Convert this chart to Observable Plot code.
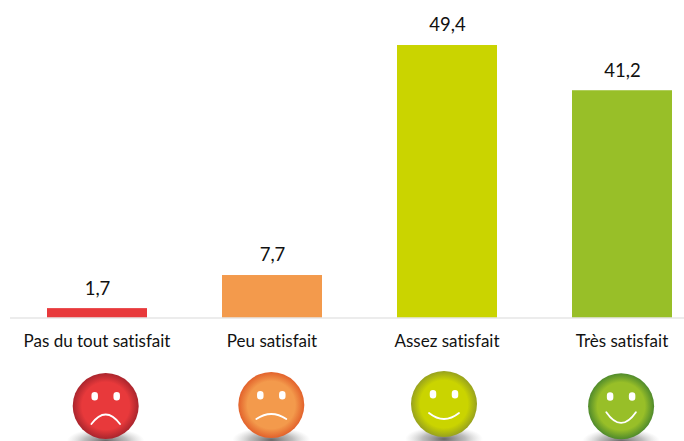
<!DOCTYPE html>
<html>
<head>
<meta charset="utf-8">
<script src="https://cdn.jsdelivr.net/npm/d3@7"></script>
<script src="https://cdn.jsdelivr.net/npm/@observablehq/plot@0.6"></script>
<style>
html,body{margin:0;padding:0;background:#fff;overflow:hidden}
svg{display:block}
svg text{font-variant-ligatures:none}
</style>
</head>
<body>
<div id="chart"></div>
<script>
const categories = ["Pas du tout satisfait", "Peu satisfait", "Assez satisfait", "Très satisfait"];
const values = [1.7, 7.7, 49.4, 41.2];
const valueLabels = ["1,7", "7,7", "49,4", "41,2"];
const barColors = ["#e8393b", "#f39a4c", "#cad400", "#98bf28"];
const edgeColors = ["#a9252d", "#e2612b", "#97a11e", "#4f8a2c"];
const faceLevel = [-15.95, -15.77, -15.6, -16.0];
const faceShift = [8.2, -1.2, -3.5, -1.4];
const mouthEnds = [18, 14, 9, 6];
const mouthMids = [8.5, 9, 15, 16.7];
const mouthHalf = [14.3, 15, 15, 14.8];

const rows = categories.map((category, i) => ({
  category, value: values[i], label: valueLabels[i], color: barColors[i], level: faceLevel[i], i
}));

const NS = "http://www.w3.org/2000/svg";
function defs() {
  const d = document.createElementNS(NS, "defs");
  const stops = (g, list) => list.forEach(([o, c, a]) => {
    const s = document.createElementNS(NS, "stop");
    s.setAttribute("offset", o);
    s.setAttribute("stop-color", c);
    if (a != null) s.setAttribute("stop-opacity", a);
    g.appendChild(s);
  });
  categories.forEach((_, i) => {
    const g = document.createElementNS(NS, "radialGradient");
    g.setAttribute("id", "face" + i);
    stops(g, [[0.72, barColors[i]], [1, edgeColors[i]]]);
    d.appendChild(g);
  });
  const sh = document.createElementNS(NS, "radialGradient");
  sh.setAttribute("id", "shadow");
  stops(sh, [[0, "#555", 0.9], [0.55, "#888", 0.55], [1, "#bbb", 0]]);
  d.appendChild(sh);
  return d;
}

const eyes = {draw(c) {
  c.moveTo(-11, -10.8); c.lineTo(-11, -8.8);
  c.moveTo(11, -10.8); c.lineTo(11, -8.8);
}};
const shadowShape = {draw(c) {
  const rx = 39, ry = 13, cy = 35, k = 0.5523;
  c.moveTo(-rx, cy);
  c.bezierCurveTo(-rx, cy - k * ry, -k * rx, cy - ry, 0, cy - ry);
  c.bezierCurveTo(k * rx, cy - ry, rx, cy - k * ry, rx, cy);
  c.bezierCurveTo(rx, cy + k * ry, k * rx, cy + ry, 0, cy + ry);
  c.bezierCurveTo(-k * rx, cy + ry, -rx, cy + k * ry, -rx, cy);
  c.closePath();
}};
const mouth = i => ({draw(c) {
  const h = mouthHalf[i], e = mouthEnds[i], m = mouthMids[i];
  c.moveTo(-h, e);
  c.quadraticCurveTo(0, 2 * m - e, h, e);
}});

const faceMarks = rows.flatMap(r => {
  const one = [r];
  const base = {x: "category", y: "level", dx: faceShift[r.i]};
  return [
    Plot.dot(one, {...base, symbol: shadowShape, fill: "url(#shadow)", stroke: "none"}),
    Plot.dot(one, {...base, r: 33, fill: `url(#face${r.i})`, stroke: "none"}),
    Plot.dot(one, {...base, symbol: eyes, fill: "none", stroke: "#fff", strokeWidth: 6.5, strokeLinecap: "round"}),
    Plot.dot(one, {...base, symbol: mouth(r.i), fill: "none", stroke: "#fff", strokeWidth: 1.8, strokeLinecap: "round"})
  ];
});

const chart = Plot.plot({
  width: 684,
  height: 441,
  marginTop: 0, marginBottom: 0, marginLeft: 10, marginRight: 0,
  style: {background: "#fff", fontFamily: "Lato, sans-serif"},
  x: {type: "band", domain: categories, range: [8.6, 709.8], paddingInner: 0.43, paddingOuter: 0.215, axis: null},
  y: {domain: [-22.39, 57.56], range: [441, 0], axis: null},
  marks: [
    defs,
    Plot.barY(rows, {x: "category", y: "value", fill: "color"}),
    Plot.ruleY([0], {stroke: "#d9d9d9", strokeWidth: 1.2}),
    Plot.text(rows, {x: "category", y: "value", text: "label", dy: -20, fontSize: 18.5, fill: "#111"}),
    Plot.text(rows, {x: "category", y: () => -4.25, text: "category", dx: -0.5, fontSize: 17, fill: "#111"}),
    ...faceMarks
  ]
});
document.getElementById("chart").appendChild(chart);
</script>
</body>
</html>
